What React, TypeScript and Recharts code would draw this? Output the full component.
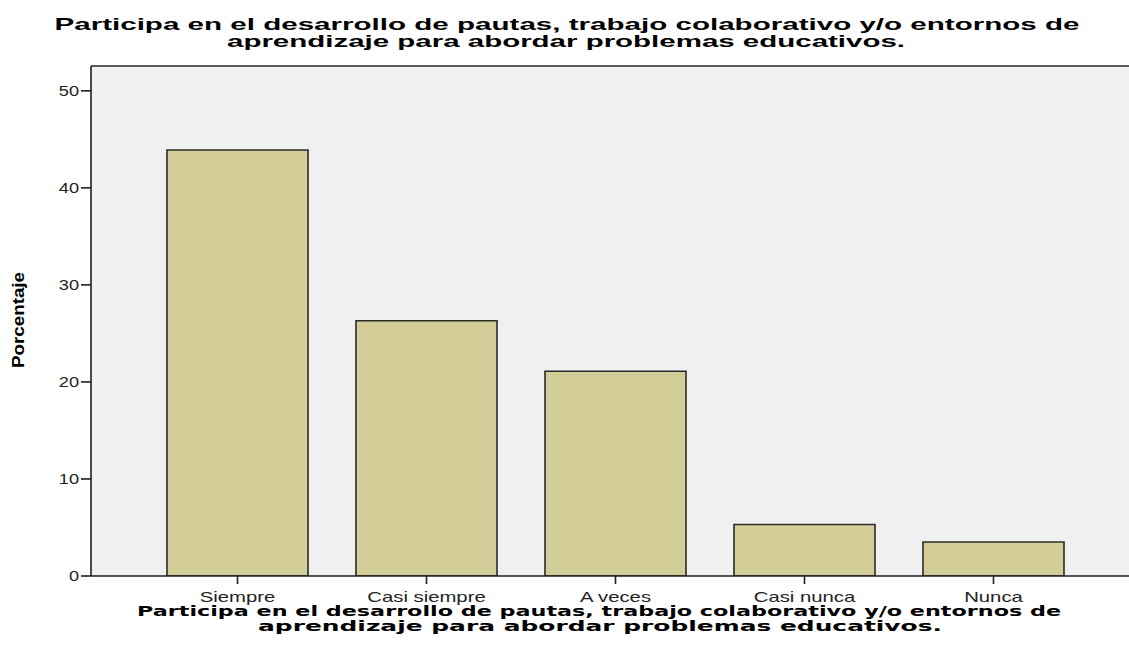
import React from "react";
import { BarChart, Bar, XAxis, YAxis, CartesianGrid, ReferenceLine } from "recharts";

const categories = ["Siempre", "Casi siempre", "A veces", "Casi nunca", "Nunca"];
const percentages = [43.9, 26.3, 21.1, 5.3, 3.5];
const yTicks = [0, 10, 20, 30, 40, 50];
const Y_MAX = 52.56;

const titleLines = [
  "Participa en el desarrollo de pautas, trabajo colaborativo y/o entornos de",
  "aprendizaje para abordar problemas educativos.",
];
const yAxisTitle = "Porcentaje";

const data = categories.map((c, i) => ({ name: c, value: percentages[i] }));

const FONT = "Liberation Sans, Arial, sans-serif";

function XTick(props: any) {
  const { x, y, payload } = props;
  return (
    <g transform={`translate(${x},${y}) scale(1.45,1)`}>
      <text x={0} y={0} dy="0.71em" textAnchor="middle" fontSize={14} fontFamily={FONT} fill="#222">
        {payload.value}
      </text>
    </g>
  );
}

function YTick(props: any) {
  const { x, y, payload } = props;
  return (
    <g transform={`translate(${x},${y}) scale(1.3,1)`}>
      <text x={0} y={0} dy="0.355em" textAnchor="end" fontSize={14} fontFamily={FONT} fill="#222">
        {payload.value}
      </text>
    </g>
  );
}

export default function App() {
  return (
    <div
      style={{
        position: "absolute",
        left: 0,
        top: 0,
        width: 1129,
        height: 656,
        overflow: "hidden",
        background: "#ffffff",
      }}
    >
      <BarChart
        width={1129}
        height={656}
        data={data}
        margin={{ top: 66, right: 0, bottom: 50, left: 0 }}
      >
        <CartesianGrid fill="#f0f0f0" horizontal={false} vertical={false} />
        <XAxis
          dataKey="name"
          height={30}
          padding={{ left: 52, right: 41 }}
          axisLine={{ stroke: "#1e1e1e", strokeWidth: 1.6 }}
          tickLine={{ stroke: "#1e1e1e", strokeWidth: 1.6 }}
          tickSize={8}
          tickMargin={8}
          tick={<XTick />}
          interval={0}
        />
        <YAxis
          width={91}
          domain={[0, Y_MAX]}
          ticks={yTicks}
          allowDataOverflow
          axisLine={{ stroke: "#1e1e1e", strokeWidth: 1.6 }}
          tickLine={{ stroke: "#1e1e1e", strokeWidth: 1.6 }}
          tickSize={10}
          tickMargin={2}
          tick={<YTick />}
        />
        <ReferenceLine y={Y_MAX} stroke="#5a5a5a" strokeWidth={2} />
        <Bar
          dataKey="value"
          barSize={141}
          fill="#d3ce97"
          stroke="#2b2b2b"
          strokeWidth={1.6}
          isAnimationActive={false}
        />
      </BarChart>
      <svg
        width={1129}
        height={656}
        style={{ position: "absolute", left: 0, top: 0, pointerEvents: "none" }}
      >
        <g fontFamily={FONT} fontWeight="bold" fill="#000">
          <text x={567} y={30} fontSize={17} textAnchor="middle" textLength={1025} lengthAdjust="spacingAndGlyphs">
            {titleLines[0]}
          </text>
          <text x={566} y={47} fontSize={17} textAnchor="middle" textLength={678} lengthAdjust="spacingAndGlyphs">
            {titleLines[1]}
          </text>
          <text
            x={0}
            y={0}
            fontSize={16}
            textAnchor="middle"
            textLength={96}
            lengthAdjust="spacingAndGlyphs"
            transform="translate(24,320) rotate(-90)"
          >
            {yAxisTitle}
          </text>
        </g>
        <g fontFamily="DejaVu Sans, Verdana, sans-serif" fontWeight="bold" fill="#000">
          <text x={599} y={616} fontSize={14} textAnchor="middle" textLength={924} lengthAdjust="spacingAndGlyphs">
            {titleLines[0]}
          </text>
          <text x={600} y={631} fontSize={14} textAnchor="middle" textLength={684} lengthAdjust="spacingAndGlyphs">
            {titleLines[1]}
          </text>
        </g>
      </svg>
    </div>
  );
}
